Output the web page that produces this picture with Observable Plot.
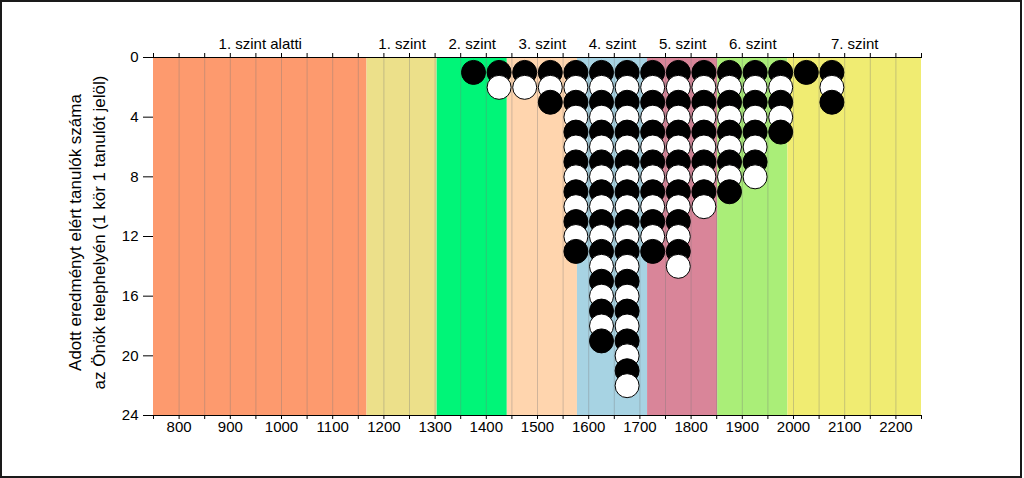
<!DOCTYPE html>
<html>
<head>
<meta charset="utf-8">
<script src="https://cdn.jsdelivr.net/npm/d3@7"></script>
<script src="https://cdn.jsdelivr.net/npm/@observablehq/plot@0.6"></script>
<style>
  html, body { margin: 0; padding: 0; background: #fff; }
  #wrap { position: relative; width: 1024px; height: 478px; overflow: hidden; }
  #border { position: absolute; left: 0; top: 0; width: 1022px; height: 478px; box-sizing: border-box; border: 2px solid #1a1a1a; pointer-events: none; }
  svg { display: block; }
</style>
</head>
<body>
<div id="wrap"><div id="chart"></div><div id="border"></div></div>
<script>
const levelNames = ["1. szint alatti", "1. szint", "2. szint", "3. szint", "4. szint", "5. szint", "6. szint", "7. szint"];
const levelStarts = [750, 1167, 1304, 1441, 1578, 1715, 1852, 1989];
const levelEnds = [1167, 1304, 1441, 1578, 1715, 1852, 1989, 2250];
const levelColors = ["#FD9A6E", "#ECE08A", "#00F578", "#FFD5AE", "#A7D3E3", "#D98599", "#AAEE78", "#F0EC72"];

const binCenters = [1375, 1425, 1475, 1525, 1575, 1625, 1675, 1725, 1775, 1825, 1875, 1925, 1975, 2025, 2075];
const counts = [1, 2, 2, 3, 13, 19, 22, 13, 14, 10, 9, 8, 5, 1, 3];

const yTicks = [0, 4, 8, 12, 16, 20, 24];
const xTickMarks = d3.range(750, 2251, 50);
const xGrid = d3.range(800, 2201, 50);
const yTitle = "Adott eredményt elért tanulók száma\naz Önök telephelyén (1 kör 1 tanulót jelöl)";

const bands = levelNames.map((name, i) => ({name, x1: levelStarts[i], x2: levelEnds[i], color: levelColors[i], mid: (levelStarts[i] + levelEnds[i]) / 2}));

// one circle per student, stacked in each score bin
const dots = [];
binCenters.forEach((x, i) => {
  for (let k = 1; k <= counts[i]; k++) dots.push({x, y: k, fill: k % 2 === 1 ? "black" : "white"});
});

const font = "'Liberation Sans', Arial, sans-serif";

const chart = Plot.plot({
  width: 1024,
  height: 478,
  marginLeft: 153,
  marginRight: 103,
  marginTop: 57,
  marginBottom: 63,
  style: {fontFamily: font, fontSize: "15px", color: "#000", background: "transparent"},
  x: {domain: [750, 2250]},
  y: {domain: [0, 24], reverse: true},
  marks: [
    Plot.rect(bands, {x1: "x1", x2: "x2", y1: 0, y2: 24, fill: "color"}),
    Plot.ruleX(xGrid, {y1: 0, y2: 24, stroke: "#777", strokeOpacity: 0.35}),
    Plot.dot(dots, {x: "x", y: "y", r: 12, fill: "fill", stroke: "black", strokeWidth: 1}),
    Plot.ruleY([0, 24], {x1: 750, x2: 2250, stroke: "black"}),
    Plot.axisY({ticks: yTicks, tickSize: 10, tickPadding: 5, label: null, fontSize: 15}),
    Plot.axisX({anchor: "bottom", ticks: xTickMarks, tickSize: 4, tickPadding: 2, label: null, fontSize: 15,
      tickFormat: d => d % 100 === 0 && d > 750 && d < 2250 ? String(d) : ""}),
    Plot.axisX({anchor: "top", ticks: xTickMarks, tickSize: 5, label: null, tickFormat: () => ""}),
    Plot.text(bands, {x: "mid", text: "name", frameAnchor: "top", dy: -13, lineAnchor: "middle", fontSize: 15}),
    Plot.text([yTitle], {frameAnchor: "left", dx: -68, rotate: -90, text: d => d, fontSize: 17, lineHeight: 1.4, textAnchor: "middle", lineAnchor: "middle", dy: -4})
  ]
});
document.getElementById("chart").appendChild(chart);
</script>
</body>
</html>
